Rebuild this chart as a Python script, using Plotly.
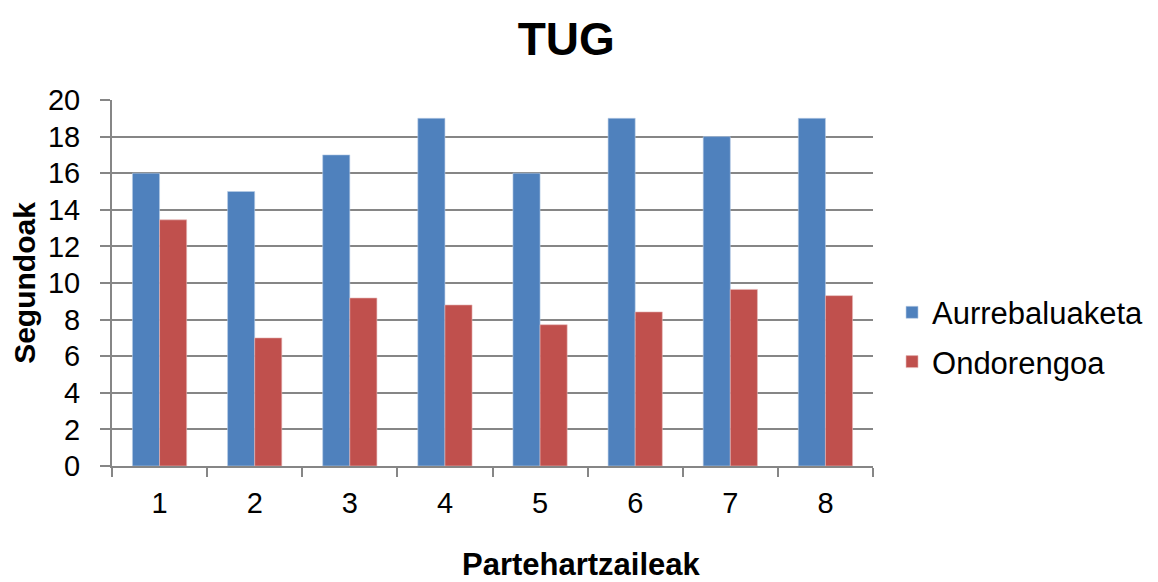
import plotly.graph_objects as go

categories = ["1", "2", "3", "4", "5", "6", "7", "8"]
aurrebaluaketa = [16, 15, 17, 19, 16, 19, 18, 19]
ondorengoa = [13.45, 7.0, 9.18, 8.8, 7.72, 8.42, 9.65, 9.31]
y_ticks = [0, 2, 4, 6, 8, 10, 12, 14, 16, 18, 20]

FONT = "Liberation Sans, Arial, sans-serif"
GRID = "#868686"

fig = go.Figure()
fig.add_trace(go.Bar(x=categories, y=aurrebaluaketa, name="Aurrebaluaketa",
                     marker=dict(color="#4F81BD", line=dict(color="#B9CDE5", width=0.6)),
                     legendgroup="a"))
fig.add_trace(go.Bar(x=categories, y=ondorengoa, name="Ondorengoa",
                     marker=dict(color="#C0504D", line=dict(color="#E6B9B8", width=0.6)),
                     legendgroup="b"))

fig.update_layout(
    width=1158, height=582,
    paper_bgcolor="white", plot_bgcolor="white",
    margin=dict(l=104, r=293, t=92, b=124, autoexpand=False),
    barmode="group", bargap=0.43, bargroupgap=0,
    font=dict(family=FONT, color="black"),
    title=dict(text="<b>TUG</b>", x=0.597, xref="paper", xanchor="center",
               y=0.947, yanchor="middle", font=dict(size=46, family=FONT)),
    legend=dict(x=1.025, xanchor="left", y=0.352, yanchor="middle",
                font=dict(size=31, family=FONT), tracegroupgap=6,
                itemwidth=30, bgcolor="rgba(0,0,0,0)"),
    showlegend=True,
    annotations=[dict(text="<b>Partehartzaileak</b>", xref="paper", yref="paper",
                      x=0.6175, y=-0.27, xanchor="center", yanchor="middle",
                      showarrow=False, font=dict(size=31, family=FONT))],
)
fig.update_xaxes(
    type="category", showgrid=False, showline=True, linecolor=GRID, linewidth=2,
    ticks="outside", tickson="boundaries", ticklen=9, tickcolor=GRID, tickwidth=2,
    tickfont=dict(size=29, family=FONT), ticklabelstandoff=10,
)
fig.update_yaxes(
    range=[0, 20], tickvals=y_ticks, showgrid=True, gridcolor=GRID, gridwidth=2,
    showline=True, linecolor=GRID, linewidth=2, zeroline=False,
    ticks="outside", ticklen=10, tickcolor=GRID, tickwidth=2,
    tickfont=dict(size=29, family=FONT), ticklabelstandoff=14,
    title=dict(text="<b>Segundoak</b>", font=dict(size=30, family=FONT), standoff=5),
)

fig.write_html("out.html")
